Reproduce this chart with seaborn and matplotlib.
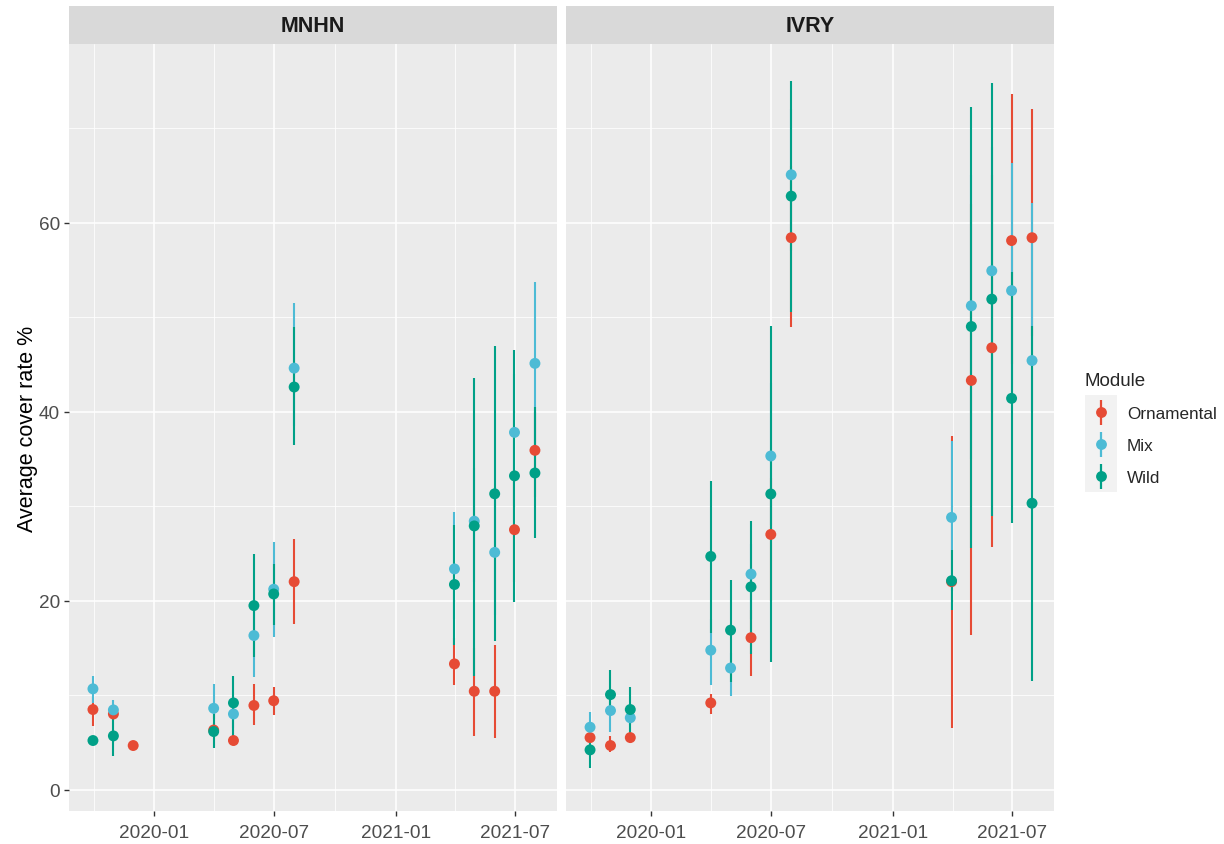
import numpy as np
import pandas as pd
import matplotlib
matplotlib.use("Agg")
import matplotlib.pyplot as plt
import matplotlib.dates as mdates
from matplotlib.ticker import FixedLocator
from matplotlib.lines import Line2D
from matplotlib.patches import Rectangle
from matplotlib.legend_handler import HandlerTuple
import seaborn as sns

# ---------------- data ----------------
dates = ["2019-09-30", "2019-10-31", "2019-11-30",
         "2020-03-31", "2020-04-30", "2020-05-31", "2020-06-30", "2020-07-31",
         "2021-03-31", "2021-04-30", "2021-05-31", "2021-06-30", "2021-07-31"]
sites = ["MNHN", "IVRY"]
modules = ["Ornamental", "Mix", "Wild"]
nan = np.nan

# MNHN
mnhn_orn_mean = [8.47, 8.0, 4.66, 6.3, 5.19, 8.9, 9.4, 22.0, 13.3, 10.4, 10.4, 27.5, 35.9]
mnhn_orn_lo   = [6.7, 7.4, 4.3, 5.6, 4.8, 6.8, 7.9, 17.5, 11.1, 5.7, 5.5, 22.0, 31.0]
mnhn_orn_hi   = [9.8, 8.9, 5.0, 7.0, 5.6, 11.2, 10.9, 26.5, 16.0, 15.0, 15.3, 33.0, 40.0]
mnhn_mix_mean = [10.66, 8.43, nan, 8.6, 8.0, 16.3, 21.2, 44.6, 23.35, 28.4, 25.1, 37.8, 45.1]
mnhn_mix_lo   = [9.2, 7.5, nan, 7.5, 6.5, 11.9, 16.1, 38.5, 18.0, 22.0, 18.5, 30.0, 36.0]
mnhn_mix_hi   = [12.06, 9.5, nan, 11.2, 9.6, 20.0, 26.2, 51.5, 29.35, 34.0, 32.0, 44.0, 53.7]
mnhn_wild_mean = [5.19, 5.68, nan, 6.14, 9.17, 19.47, 20.7, 42.6, 21.7, 27.9, 31.3, 33.2, 33.5]
mnhn_wild_lo   = [4.8, 3.6, nan, 4.4, 5.7, 14.0, 17.4, 36.5, 15.3, 12.06, 15.7, 19.8, 26.6]
mnhn_wild_hi   = [5.6, 9.0, nan, 8.0, 12.06, 24.9, 23.9, 48.9, 28.0, 43.6, 46.9, 46.5, 40.5]

# IVRY
ivry_orn_mean = [5.5, 4.66, 5.5, 9.17, nan, 16.07, 27.0, 58.4, 22.0, 43.3, 46.75, 58.1, 58.4]
ivry_orn_lo   = [5.0, 3.96, 5.0, 8.0, nan, 12.05, 20.0, 48.9, 6.5, 16.4, 25.7, 45.0, 48.0]
ivry_orn_hi   = [6.0, 5.65, 6.0, 10.1, nan, 19.0, 33.0, 66.0, 37.4, 62.0, 65.0, 73.6, 72.0]
ivry_mix_mean = [6.6, 8.36, 7.6, 14.75, 12.86, 22.8, 35.3, 65.06, 28.8, 51.2, 54.9, 52.8, 45.4]
ivry_mix_lo   = [5.0, 6.07, 6.8, 11.1, 9.9, 18.0, 28.0, 57.0, 21.0, 35.0, 40.0, 42.0, 40.0]
ivry_mix_hi   = [8.25, 9.5, 8.5, 18.0, 14.5, 26.0, 43.0, 72.0, 36.9, 65.0, 68.0, 66.3, 62.1]
ivry_wild_mean = [4.2, 10.05, 8.47, 24.67, 16.87, 21.45, 31.28, 62.8, 22.1, 49.0, 51.9, 41.4, 30.3]
ivry_wild_lo   = [2.3, 8.0, 6.0, 16.6, 11.4, 14.3, 13.47, 50.5, 18.95, 25.6, 28.9, 28.2, 11.5]
ivry_wild_hi   = [5.5, 12.7, 10.9, 32.7, 22.2, 28.4, 49.1, 75.0, 25.4, 72.2, 74.8, 54.75, 49.1]

palette = {"Ornamental": "#E64B35", "Mix": "#4DBBD5", "Wild": "#00A087"}

series = {
    ("MNHN", "Ornamental"): (mnhn_orn_mean, mnhn_orn_lo, mnhn_orn_hi),
    ("MNHN", "Mix"): (mnhn_mix_mean, mnhn_mix_lo, mnhn_mix_hi),
    ("MNHN", "Wild"): (mnhn_wild_mean, mnhn_wild_lo, mnhn_wild_hi),
    ("IVRY", "Ornamental"): (ivry_orn_mean, ivry_orn_lo, ivry_orn_hi),
    ("IVRY", "Mix"): (ivry_mix_mean, ivry_mix_lo, ivry_mix_hi),
    ("IVRY", "Wild"): (ivry_wild_mean, ivry_wild_lo, ivry_wild_hi),
}

rows = []
for site in sites:
    for mod in modules:
        m, lo, hi = series[(site, mod)]
        for d, a, b, c in zip(dates, m, lo, hi):
            rows.append(dict(site=site, module=mod, date=pd.Timestamp(d), mean=a, lo=b, hi=c))
df = pd.DataFrame(rows).dropna()

# ---------------- style ----------------
sns.set_theme(style="darkgrid")
plt.rcParams["font.family"] = ["Liberation Sans", "DejaVu Sans"]

W, H = 1224, 845
fig = plt.figure(figsize=(W / 100, H / 100), dpi=100)

panel_top, panel_bot = 45.0, 812.3
strip_top = 7.3
panel_w = 487.5
lefts = [69.2, 566.3]

major_x = [pd.Timestamp(d) for d in ["2020-01-01", "2020-07-01", "2021-01-01", "2021-07-01"]]
edges = [pd.Timestamp("2019-07-01")] + major_x + [pd.Timestamp("2022-01-01")]
minor_x = [edges[i] + (edges[i + 1] - edges[i]) / 2 for i in range(len(edges) - 1)]

xlim = (mdates.date2num(pd.Timestamp("2019-08-25")), mdates.date2num(pd.Timestamp("2021-09-02")))
ylim = (-2.3, 78.9)

for i, site in enumerate(sites):
    L = lefts[i]
    ax = fig.add_axes([L / W, 1 - panel_bot / H, panel_w / W, (panel_bot - panel_top) / H])
    ax.set_facecolor("#EBEBEB")
    sub = df[df.site == site]
    for mod in modules:
        s = sub[sub.module == mod]
        ax.vlines(s["date"], s["lo"], s["hi"], color=palette[mod], lw=1.5, zorder=2)
    sns.scatterplot(data=sub, x="date", y="mean", hue="module", hue_order=modules,
                    palette=palette, s=62, linewidth=0, legend=False, ax=ax, zorder=3)
    ax.set_xlim(*xlim)
    ax.set_ylim(*ylim)
    ax.xaxis.set_major_locator(FixedLocator(mdates.date2num(major_x)))
    ax.xaxis.set_minor_locator(FixedLocator(mdates.date2num(minor_x)))
    ax.xaxis.set_major_formatter(mdates.DateFormatter("%Y-%m"))
    ax.yaxis.set_major_locator(FixedLocator([0, 20, 40, 60]))
    ax.yaxis.set_minor_locator(FixedLocator([10, 30, 50, 70]))
    ax.grid(which="major", color="white", lw=1.1)
    ax.grid(which="minor", color="white", lw=0.55)
    ax.set_axisbelow(True)
    for sp in ax.spines.values():
        sp.set_visible(False)
    ax.tick_params(which="major", length=3.5, width=1.0, color="#333333",
                   labelcolor="#4D4D4D", labelsize=13.7, direction="out")
    ax.tick_params(axis="x", which="major", pad=6)
    ax.tick_params(axis="y", which="major", pad=3)
    ax.tick_params(which="minor", length=0)
    ax.tick_params(axis="x", bottom=True)
    ax.tick_params(axis="y", left=True)
    ax.set_xlabel("")
    if i == 0:
        ax.set_ylabel("Average cover rate %", fontsize=15.5, color="black", labelpad=1)
    else:
        ax.set_ylabel("")
        ax.tick_params(axis="y", left=False, labelleft=False)

    sax = fig.add_axes([L / W, 1 - panel_top / H, panel_w / W, (panel_top - strip_top) / H])
    sax.set_facecolor("#D9D9D9")
    sax.set_xticks([])
    sax.set_yticks([])
    for sp in sax.spines.values():
        sp.set_visible(False)
    sax.grid(False)
    sax.text(0.5, 0.5, site, ha="center", va="center", fontsize=15.5,
             fontweight="bold", color="#1A1A1A", transform=sax.transAxes)

# legend key background (ggplot-style grey key boxes)
fig.add_artist(Rectangle((1085 / W, 1 - 493 / H), 32 / W, 97 / H, transform=fig.transFigure,
                         facecolor="#F2F2F2", edgecolor="none", zorder=0))

handles = [(Line2D([], [], marker="|", markersize=18, mew=1.6, color=palette[m], ls="none"),
            Line2D([], [], marker="o", markersize=7.8, mew=0, color=palette[m], ls="none"))
           for m in modules]
leg = fig.legend(handles, modules, handler_map={tuple: HandlerTuple(ndivide=1, pad=0)},
                 loc="upper left", bbox_to_anchor=(1085 / W, 1 - 373 / H),
                 frameon=False, title="Module", fontsize=12.3, title_fontsize=13.5,
                 handlelength=1.85, labelspacing=1.0, handletextpad=0.6,
                 borderpad=0, borderaxespad=0, alignment="left")
leg.set_zorder(5)

fig.savefig("out.png", dpi=100)
